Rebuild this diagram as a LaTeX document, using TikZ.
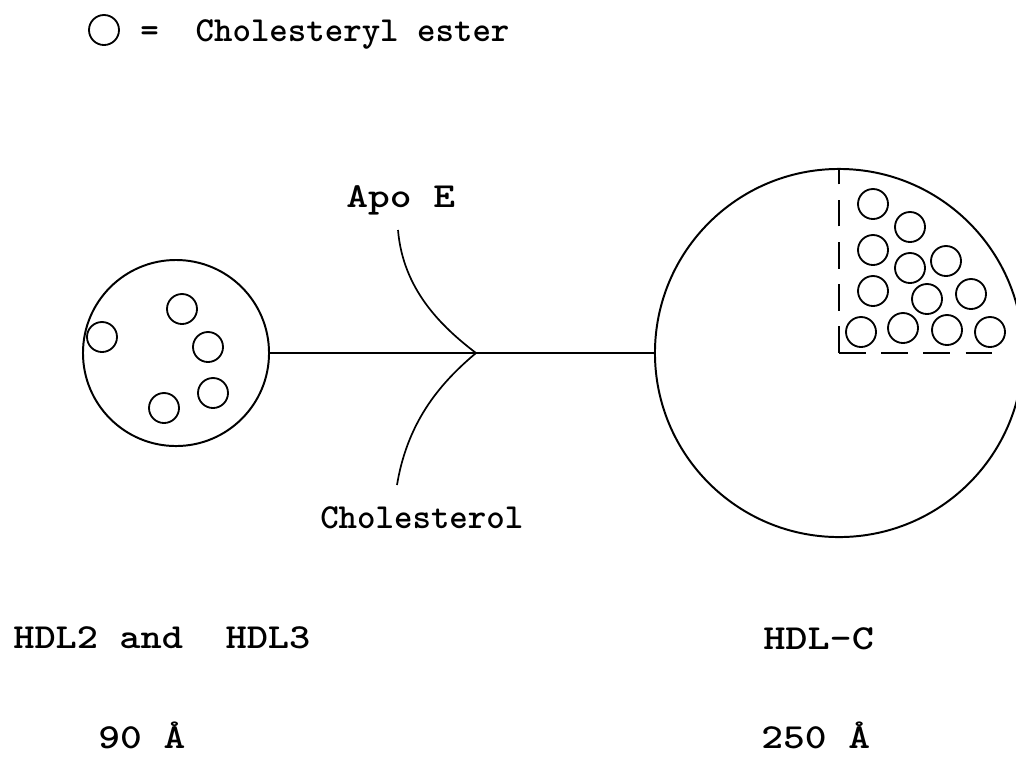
\documentclass[tikz,border=0pt]{standalone}
\usepackage{tikz}
\newcommand{\widetext}[2]{\scalebox{#1}[1]{#2}}

\begin{document}
\begin{tikzpicture}[x=0.025cm, y=-0.025cm,
  txt/.style={font=\fontsize{25}{30}\selectfont\ttfamily\bfseries, inner sep=0pt},
  ester/.style={draw, circle, line width=1.3pt, minimum size=0.75cm, inner sep=0pt},
  particle/.style={draw, circle, line width=1.4pt, inner sep=0pt},
  link/.style={line width=1.2pt},
  quadline/.style={line width=1.2pt, dash pattern=on 19pt off 11pt}]
\clip (0,0) rectangle (1016,759);
% key
\node[ester] (keyball) at (104,30) {};
\node[txt, anchor=base west] (keytext) at (140,41) {\widetext{1.0}{=\ \ Cholesteryl ester}};
% left: HDL2 and HDL3 particle
\node[particle, minimum size=4.65cm] (hdlsmall) at (176,353) {};
\node[ester] (e1) at (102,337) {};
\node[ester] (e2) at (182,309) {};
\node[ester] (e3) at (208,347) {};
\node[ester] (e4) at (213,393) {};
\node[ester] (e5) at (164,408) {};
\node[txt, anchor=base west] (smallname) at (13,648) {\widetext{1.15}{HDL2 and\ \ HDL3}};
\node[txt, anchor=base west] (smallsize) at (98,748) {\widetext{1.18}{90 Å}};
% middle: uptake of Apo E and cholesterol
\coordinate (junc) at (476,353);
\coordinate (apotail) at (398,230);
\coordinate (choltail) at (397,485);
\node[txt, anchor=base west] (apo) at (346,207) {\widetext{1.18}{Apo E}};
\node[txt, anchor=base west] (chol) at (320,528) {\widetext{1.0}{Cholesterol}};
\draw[link] (apotail) .. controls (403,290) and (442,327) .. (junc);
\draw[link] (choltail) .. controls (408,418) and (444,380) .. (junc);
% right: HDL-C particle
\node[particle, minimum size=9.2cm] (hdlc) at (839,353) {};
\coordinate (qend) at (1007,353);
\draw[quadline] (hdlc.center) -- (hdlc.north);
\draw[quadline] (hdlc.center) -- (qend);
\node[ester] (q1) at (873,204) {};
\node[ester] (q2) at (910,227) {};
\node[ester] (q3) at (873,250) {};
\node[ester] (q4) at (910,268) {};
\node[ester] (q5) at (946,261) {};
\node[ester] (q6) at (873,291) {};
\node[ester] (q7) at (927,299) {};
\node[ester] (q8) at (971,294) {};
\node[ester] (q9) at (861,332) {};
\node[ester] (q10) at (903,328) {};
\node[ester] (q11) at (947,330) {};
\node[ester] (q12) at (990,332) {};
\node[txt, anchor=base west] (bigname) at (763,649) {\widetext{1.2}{HDL—C}};
\node[txt, anchor=base west] (bigsize) at (761,748) {\widetext{1.18}{250 Å}};
\draw[link] (hdlsmall.east) -- (junc) -- (hdlc.west);
\end{tikzpicture}
\end{document}
